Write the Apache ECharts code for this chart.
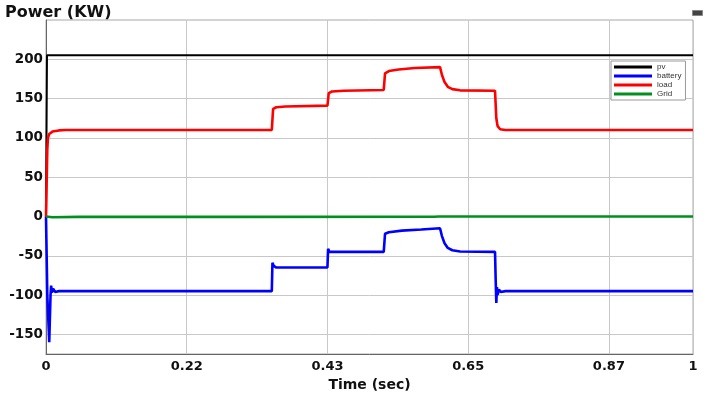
<!DOCTYPE html>
<html><head><meta charset="utf-8">
<script src="https://cdn.jsdelivr.net/npm/echarts@6/dist/echarts.min.js"></script>
<style>html,body{margin:0;padding:0;background:#fff}#c{width:706px;height:393px}</style>
</head><body><div id="c"></div>
<script>
const seriesNames = ['pv', 'battery', 'load', 'Grid'];
const seriesColors = ['#000000', '#0000ff', '#ff0000', '#009020'];
const xTickValues = [0, 0.2175, 0.435, 0.6525, 0.87, 1];
const xTickLabels = ['0', '0.22', '0.43', '0.65', '0.87', '1'];
const yTickValues = [-150, -100, -50, 0, 50, 100, 150, 200];

const pvData = [[0, 0], [0.0015, 205], [0.3, 205], [0.6, 205], [1, 205]];
const batteryData = [
  [0, 0], [0.002, -100], [0.005, -160], [0.007, -100], [0.008, -88], [0.009, -97],
  [0.011, -92], [0.014, -96], [0.02, -95], [0.349, -95], [0.350, -59], [0.352, -63],
  [0.356, -65], [0.435, -65], [0.436, -41], [0.438, -45], [0.522, -45], [0.524, -22],
  [0.53, -20], [0.55, -18], [0.58, -16.5], [0.609, -15], [0.612, -25], [0.616, -34],
  [0.621, -40], [0.628, -43], [0.64, -44.5], [0.694, -45], [0.695, -80], [0.696, -110],
  [0.697, -90], [0.698, -100], [0.700, -93], [0.703, -96], [0.71, -95], [1, -95]
];
const loadData = [
  [0, 0], [0.002, 85], [0.003, 100], [0.005, 105], [0.01, 108], [0.02, 109.5], [0.03, 110],
  [0.349, 110], [0.351, 137], [0.356, 139], [0.37, 140], [0.435, 141], [0.437, 157],
  [0.442, 159], [0.46, 160], [0.522, 161], [0.524, 182], [0.53, 185], [0.545, 187],
  [0.57, 189], [0.609, 190], [0.612, 180], [0.616, 171], [0.621, 165], [0.628, 162],
  [0.64, 160.5], [0.694, 160], [0.696, 125], [0.698, 115], [0.702, 111], [0.71, 110], [1, 110]
];
const gridData = [
  [0, 0], [0.01, -1], [0.05, -0.5], [0.3, -0.5], [0.6, -0.3], [0.607, 0], [0.61, 2],
  [0.613, 0], [0.7, 0], [1, 0]
];
const allData = [pvData, batteryData, loadData, gridData];

const chart = echarts.init(document.getElementById('c'));
chart.setOption({
  backgroundColor: '#ffffff',
  animation: false,
  title: {
    text: 'Power (KW)', left: 0, top: 0,
    textStyle: { fontFamily: 'DejaVu Sans', fontWeight: 'bold', fontSize: 16, color: '#111' }
  },
  legend: {
    orient: 'vertical', left: 611, top: 61,
    data: seriesNames,
    icon: 'rect', itemWidth: 38, itemHeight: 3, itemGap: 1,
    padding: [2, 4, 2, 3],
    borderColor: '#999', borderWidth: 1, backgroundColor: '#fff',
    textStyle: { fontFamily: 'Liberation Sans', fontSize: 8, lineHeight: 8, color: '#333' }
  },
  grid: {
    left: 46, right: 13, top: 20, bottom: 39,
    outerBoundsMode: 'none', containLabel: false,
    show: true, borderColor: '#a8a8a8', borderWidth: 1
  },
  xAxis: {
    type: 'value', min: 0, max: 1,
    name: 'Time (sec)', nameLocation: 'middle', nameGap: 23,
    nameTextStyle: { fontFamily: 'DejaVu Sans', fontWeight: 'bold', fontSize: 14, color: '#111' },
    axisLine: { show: true, onZero: false, lineStyle: { color: '#666', width: 1 } },
    axisTick: { show: false, customValues: xTickValues },
    axisLabel: {
      customValues: xTickValues, margin: 6,
      fontFamily: 'DejaVu Sans', fontWeight: 'bold', fontSize: 13, color: '#111',
      formatter: function (v) {
        for (let i = 0; i < xTickValues.length; i++) if (Math.abs(xTickValues[i] - v) < 1e-6) return xTickLabels[i];
        return '';
      }
    },
    splitLine: { show: true, lineStyle: { color: '#c8c8c8', width: 1 } }
  },
  yAxis: {
    type: 'value', min: -175, max: 250,
    axisLine: { show: true, onZero: false, lineStyle: { color: '#666', width: 1 } },
    axisTick: { show: false, customValues: yTickValues },
    axisLabel: {
      customValues: yTickValues, margin: 3,
      fontFamily: 'DejaVu Sans', fontWeight: 'bold', fontSize: 13.5, color: '#111'
    },
    splitLine: { show: true, lineStyle: { color: '#c8c8c8', width: 1 } }
  },
  series: seriesNames.map(function (n, i) {
    return {
      name: n, type: 'line', data: allData[i], showSymbol: false, symbol: 'none',
      color: seriesColors[i],
      lineStyle: { color: seriesColors[i], width: i === 0 ? 2 : 2.6 }
    };
  }),
  graphic: [{
    type: 'rect', left: 692, top: 10, shape: { width: 10, height: 5 },
    style: { fill: '#444', stroke: '#888', lineWidth: 1 }
  }]
});
</script>
</body></html>
